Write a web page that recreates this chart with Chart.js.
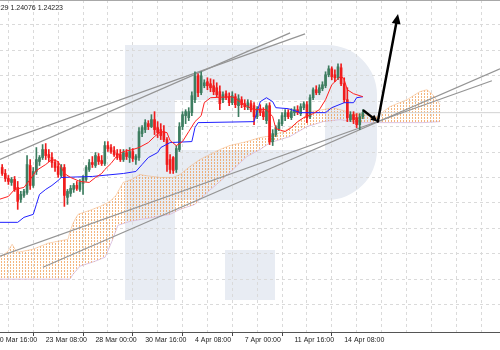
<!DOCTYPE html>
<html>
<head>
<meta charset="utf-8">
<script src="https://cdn.jsdelivr.net/npm/chart.js@4.4.1/dist/chart.umd.min.js"></script>
<style>
html, body { margin: 0; padding: 0; background: #fff; }
</style>
</head>
<body>
<canvas id="chartCandles" width="500" height="350"></canvas>
<script>
// GBPUSD H4, bar 0 = 23 Mar 08:00
var firstBar = -14;

var openP = [1.2334,1.2322,1.2312,1.2304,1.2310,1.2294,1.2270,1.2278,1.2284,1.2338,1.2298,1.2326,1.2346,1.2354,
  1.2370,1.2360,1.2354,1.2344,1.2336,1.2318,1.2334,1.2274,1.2282,1.2290,1.2298,1.2290,1.2302,1.2310,1.2330,1.2344,
  1.2338,1.2356,1.2348,1.2342,1.2378,1.2374,1.2368,1.2362,1.2360,1.2350,1.2364,1.2354,1.2366,1.2350,1.2354,1.2402,
  1.2410,1.2422,1.2416,1.2430,1.2414,1.2410,1.2406,1.2390,1.2350,1.2354,1.2330,1.2370,1.2416,1.2438,1.2434,1.2444,
  1.2470,1.2518,1.2484,1.2498,1.2506,1.2502,1.2498,1.2494,1.2486,1.2470,1.2482,1.2476,1.2464,1.2476,1.2458,1.2470,
  1.2462,1.2454,1.2462,1.2458,1.2436,1.2452,1.2446,1.2428,1.2458,1.2386,1.2400,1.2412,1.2422,1.2436,1.2444,1.2434,
  1.2444,1.2450,1.2442,1.2454,1.2460,1.2436,1.2474,1.2490,1.2484,1.2492,1.2498,1.2520,1.2532,1.2520,1.2514,1.2534,
  1.2502,1.2470,1.2430,1.2440,1.2434,1.2420,1.2436];
var highP = [1.2340,1.2330,1.2318,1.2314,1.2316,1.2306,1.2286,1.2290,1.2358,1.2350,1.2334,1.2374,1.2358,1.2380,
  1.2382,1.2370,1.2364,1.2350,1.2346,1.2340,1.2340,1.2290,1.2298,1.2302,1.2306,1.2310,1.2318,1.2338,1.2350,1.2356,
  1.2364,1.2362,1.2358,1.2386,1.2386,1.2380,1.2376,1.2370,1.2370,1.2370,1.2370,1.2374,1.2372,1.2360,1.2414,1.2418,
  1.2430,1.2428,1.2440,1.2446,1.2426,1.2422,1.2418,1.2394,1.2360,1.2356,1.2378,1.2424,1.2446,1.2450,1.2454,1.2486,
  1.2526,1.2522,1.2526,1.2510,1.2514,1.2512,1.2510,1.2504,1.2498,1.2486,1.2488,1.2484,1.2486,1.2482,1.2480,1.2476,
  1.2470,1.2470,1.2468,1.2464,1.2456,1.2460,1.2454,1.2462,1.2464,1.2410,1.2418,1.2430,1.2444,1.2450,1.2450,1.2452,
  1.2456,1.2458,1.2462,1.2466,1.2466,1.2480,1.2494,1.2498,1.2500,1.2506,1.2526,1.2538,1.2536,1.2530,1.2542,1.2542,
  1.2514,1.2494,1.2446,1.2446,1.2442,1.2442,1.2450];
var lowP = [1.2318,1.2306,1.2300,1.2298,1.2286,1.2250,1.2264,1.2274,1.2280,1.2290,1.2294,1.2320,1.2338,1.2350,
  1.2350,1.2346,1.2334,1.2326,1.2314,1.2314,1.2256,1.2260,1.2276,1.2284,1.2288,1.2286,1.2280,1.2306,1.2326,1.2334,
  1.2334,1.2340,1.2338,1.2338,1.2366,1.2362,1.2356,1.2350,1.2346,1.2346,1.2350,1.2344,1.2346,1.2340,1.2348,1.2396,
  1.2404,1.2410,1.2414,1.2400,1.2394,1.2390,1.2386,1.2326,1.2322,1.2322,1.2324,1.2366,1.2410,1.2422,1.2428,1.2438,
  1.2464,1.2476,1.2480,1.2494,1.2490,1.2486,1.2480,1.2476,1.2450,1.2464,1.2470,1.2458,1.2460,1.2454,1.2436,1.2454,
  1.2450,1.2450,1.2446,1.2420,1.2432,1.2438,1.2430,1.2422,1.2380,1.2378,1.2396,1.2408,1.2418,1.2428,1.2432,1.2430,
  1.2438,1.2440,1.2438,1.2450,1.2424,1.2432,1.2470,1.2480,1.2480,1.2488,1.2494,1.2516,1.2510,1.2506,1.2510,1.2498,
  1.2464,1.2426,1.2426,1.2422,1.2414,1.2410,1.2432];
var closeP = [1.2322,1.2312,1.2306,1.2310,1.2290,1.2266,1.2280,1.2286,1.2340,1.2298,1.2326,1.2350,1.2354,1.2370,
  1.2358,1.2354,1.2344,1.2334,1.2320,1.2334,1.2278,1.2286,1.2292,1.2298,1.2292,1.2304,1.2314,1.2334,1.2344,1.2340,
  1.2358,1.2346,1.2342,1.2378,1.2372,1.2366,1.2360,1.2354,1.2350,1.2364,1.2356,1.2366,1.2352,1.2356,1.2406,1.2414,
  1.2424,1.2416,1.2430,1.2410,1.2404,1.2398,1.2390,1.2340,1.2330,1.2328,1.2372,1.2416,1.2440,1.2446,1.2446,1.2478,
  1.2518,1.2484,1.2518,1.2504,1.2498,1.2494,1.2486,1.2480,1.2462,1.2480,1.2474,1.2464,1.2478,1.2460,1.2472,1.2460,
  1.2456,1.2464,1.2450,1.2436,1.2452,1.2444,1.2436,1.2458,1.2386,1.2402,1.2414,1.2424,1.2438,1.2444,1.2436,1.2446,
  1.2450,1.2444,1.2456,1.2462,1.2434,1.2474,1.2490,1.2484,1.2494,1.2500,1.2520,1.2532,1.2516,1.2514,1.2536,1.2502,
  1.2470,1.2434,1.2440,1.2430,1.2420,1.2436,1.2444];

// Tenkan-sen (red) and Kijun-sen (blue), vertices by bar
var tenkanBar = [-15,-12,-10,-7,-5,-3,0,2,4,6,8,11,14,16,18,19,21,23,25,28,30,33,35,37,39,40,42,44,46,48,50,51,53,60,62,65,67,71,73,74,77,79,81,83,86,88,90,92,95,96,97,99,102];
var tenkanP = [1.2270,1.2276,1.2290,1.2294,1.2310,1.2328,1.2340,1.2350,1.2346,1.2322,1.2314,1.2306,1.2304,1.2314,1.2322,1.2330,1.2342,1.2358,1.2366,1.2370,1.2374,1.2384,1.2396,1.2406,1.2404,1.2388,1.2378,1.2386,1.2406,1.2426,1.2438,1.2464,1.2474,1.2476,1.2468,1.2456,1.2450,1.2450,1.2436,1.2412,1.2406,1.2414,1.2426,1.2434,1.2442,1.2450,1.2470,1.2500,1.2518,1.2510,1.2490,1.2482,1.2476];
var kijunBar = [-15,-9,-7,-4,-3,-2,0,2,4,5,15,25,29,31,33,36,37,40,47,48,49,67,68,69,71,73,74,78,82,90,92,96,99,100,102];
var kijunP = [1.2224,1.2224,1.2234,1.2240,1.2260,1.2280,1.2290,1.2298,1.2308,1.2314,1.2316,1.2322,1.2326,1.2340,1.2354,1.2364,1.2374,1.2384,1.2386,1.2414,1.2424,1.2426,1.2446,1.2466,1.2474,1.2466,1.2454,1.2452,1.2444,1.2444,1.2454,1.2464,1.2464,1.2474,1.2476];

// Kumo edges (shifted 26 bars forward)
var cloudTopBar = [-14.7,-12.1,-10.8,-9.9,-8.9,-4.1,0.7,7.2,7.8,9.1,10.4,14.2,17.5,20.7,22.6,24.9,27.7,30.3,31.9,36.8,40.9,43.2,46.4,49.6,52.8,56.0,59.2,64.7,68.9,73.1,77.6,81.8,85.0,89.2,92.4,96.9,102.0,106.5,110.7,116.2,120.3,122.6,124.5,126.8];
var cloudTopP = [1.2154,1.2166,1.2180,1.2170,1.2164,1.2170,1.2182,1.2190,1.2206,1.2226,1.2240,1.2248,1.2256,1.2266,1.2278,1.2304,1.2310,1.2320,1.2318,1.2314,1.2314,1.2320,1.2336,1.2350,1.2360,1.2370,1.2378,1.2386,1.2394,1.2398,1.2410,1.2428,1.2446,1.2450,1.2454,1.2446,1.2440,1.2436,1.2456,1.2470,1.2486,1.2490,1.2480,1.2460];
var cloudBotBar = [-14.7,7.8,8.8,11.0,15.9,19.1,21.3,23.2,27.1,40.0,43.2,48.0,51.2,56.0,60.9,64.7,68.9,72.2,78.5,84.0,89.2,94.6,101.0,106.5,116.2,121.3,126.8];
var cloudBotP = [1.2110,1.2110,1.2120,1.2136,1.2146,1.2154,1.2186,1.2218,1.2226,1.2240,1.2250,1.2260,1.2280,1.2306,1.2334,1.2356,1.2370,1.2384,1.2396,1.2416,1.2426,1.2430,1.2424,1.2424,1.2424,1.2424,1.2426];

// hand-drawn trend channels: [bar, price] pairs
var channelA1 = [[-14.7, 1.2384], [83.4, 1.2602]];
var channelA2 = [[-14.7, 1.2350], [78.6, 1.2604]];
var channelB1 = [[-14.7, 1.2156], [143.5, 1.2508]];
var channelB2 = [[-0.9, 1.2134], [146.1, 1.2532]];
var bidPrice = 1.2444;
var forecastArrows = [
  { from: [102.3, 1.2448], to: [106.8, 1.2426], head: 7 },
  { from: [106.8, 1.2426], to: [113.3, 1.2642], head: 10 }
];

// axis
var xMin = -14.7, xMax = 146.1;
var gridBars = [-8,0,8,16,24,32,40,48,56,64,72,80,88,96,104,112,120,128,136,144];
var labelBars = [-16,0,16,32,48,64,80,96];
var tickLabels = ['20 Mar 16:00','23 Mar 08:00','28 Mar 00:00','30 Mar 16:00','4 Apr 08:00','7 Apr 00:00','11 Apr 16:00','14 Apr 08:00'];
var gridLevels = [1.2620,1.2569,1.2518,1.2467,1.2416,1.2365,1.2314,1.2263,1.2212,1.2161,1.2110,1.2059];

var bullColor = '#3d7d60';
var bearColor = '#f01c1c';
var labelFont = '7px "Liberation Sans"';

function pairs(bars, prices) {
  return bars.map(function (b, i) { return { x: b, y: prices[i] }; });
}
function segment(line) {
  return line.map(function (p) { return { x: p[0], y: p[1] }; });
}
function candleColor(ctx) {
  var i = ctx.dataIndex;
  return closeP[i] >= openP[i] ? bullColor : bearColor;
}

function makeDots() {
  var c = document.createElement('canvas');
  c.width = 3; c.height = 3;
  var g = c.getContext('2d');
  g.fillStyle = 'rgba(240,150,70,0.7)';
  g.fillRect(1, 0, 1, 2);
  return g.createPattern(c, 'repeat');
}

// big "R" watermark behind the chart
var watermark = {
  id: 'watermark',
  beforeDraw: function (chart) {
    var c = chart.ctx;
    c.save();
    c.fillStyle = '#e8ecf3';
    c.fillRect(125, 45, 50, 255);
    c.beginPath();
    c.moveTo(175, 45);
    c.lineTo(327, 45);
    c.arcTo(377, 45, 377, 95, 50);
    c.lineTo(377, 150);
    c.arcTo(377, 200, 327, 200, 50);
    c.lineTo(175, 200);
    c.lineTo(175, 150);
    c.lineTo(325, 150);
    c.lineTo(325, 100);
    c.lineTo(175, 100);
    c.closePath();
    c.fill();
    c.fillRect(225, 250, 50, 50);
    c.restore();
  }
};

var overlay = {
  id: 'overlay',
  afterDatasetsDraw: function (chart) {
    var c = chart.ctx, xs = chart.scales.x, ys = chart.scales.y;
    c.save();
    c.strokeStyle = '#000';
    c.fillStyle = '#000';
    c.lineWidth = 2.5;
    c.lineCap = 'round';
    forecastArrows.forEach(function (a) {
      var x1 = xs.getPixelForValue(a.from[0]), y1 = ys.getPixelForValue(a.from[1]);
      var x2 = xs.getPixelForValue(a.to[0]), y2 = ys.getPixelForValue(a.to[1]);
      var ang = Math.atan2(y2 - y1, x2 - x1), h = a.head;
      c.beginPath();
      c.moveTo(x1, y1);
      c.lineTo(x2 - Math.cos(ang) * h * 0.7, y2 - Math.sin(ang) * h * 0.7);
      c.stroke();
      c.beginPath();
      c.moveTo(x2, y2);
      c.lineTo(x2 - h * Math.cos(ang) + h * 0.45 * Math.sin(ang), y2 - h * Math.sin(ang) - h * 0.45 * Math.cos(ang));
      c.lineTo(x2 - h * Math.cos(ang) - h * 0.45 * Math.sin(ang), y2 - h * Math.sin(ang) + h * 0.45 * Math.cos(ang));
      c.closePath();
      c.fill();
    });
    c.restore();
  },
  afterDraw: function (chart) {
    var c = chart.ctx, xs = chart.scales.x;
    c.save();
    c.strokeStyle = '#a8a8a8';
    c.lineWidth = 1;
    c.beginPath();
    c.moveTo(0, 0.5);
    c.lineTo(500, 0.5);
    c.stroke();
    c.fillStyle = '#222';
    c.font = labelFont;
    c.textBaseline = 'middle';
    c.textAlign = 'right';
    c.fillText('1.24229 1.24076 1.24223', 63, 8);
    // time label whose bar lies left of the visible window
    c.textAlign = 'left';
    c.textBaseline = 'top';
    labelBars.forEach(function (b, i) {
      if (b < xMin) {
        c.fillText(tickLabels[i], xs.getPixelForValue(b), xs.top + 5);
      }
    });
    c.restore();
  }
};

var lineBase = { type: 'line', pointRadius: 0, borderWidth: 1, tension: 0, fill: false };

var chartCandles = new Chart(document.getElementById('chartCandles'), {
  type: 'bar',
  data: {
    datasets: [
      Object.assign({}, lineBase, { label: 'Tenkan', data: pairs(tenkanBar, tenkanP), borderColor: '#ff2020', order: 1 }),
      Object.assign({}, lineBase, { label: 'Kijun', data: pairs(kijunBar, kijunP), borderColor: '#2020ff', order: 2 }),
      {
        label: 'Body', grouped: false, order: 4, barThickness: 2,
        data: openP.map(function (o, i) { return { x: firstBar + i, y: [o, closeP[i]] }; }),
        backgroundColor: candleColor, borderWidth: 0
      },
      {
        label: 'Wick', grouped: false, order: 5, barThickness: 1,
        data: highP.map(function (h, i) { return { x: firstBar + i, y: [lowP[i], h] }; }),
        backgroundColor: candleColor, borderWidth: 0
      },
      Object.assign({}, lineBase, { label: 'A1', data: segment(channelA1), borderColor: '#959595', borderWidth: 1.2, order: 6 }),
      Object.assign({}, lineBase, { label: 'A2', data: segment(channelA2), borderColor: '#959595', borderWidth: 1.2, order: 6 }),
      Object.assign({}, lineBase, { label: 'B1', data: segment(channelB1), borderColor: '#959595', borderWidth: 1.2, order: 6 }),
      Object.assign({}, lineBase, { label: 'B2', data: segment(channelB2), borderColor: '#959595', borderWidth: 1.2, order: 6 }),
      Object.assign({}, lineBase, { label: 'Bid', data: [{ x: xMin, y: bidPrice }, { x: xMax, y: bidPrice }], borderColor: '#d2d2d2', order: 7 }),
      Object.assign({}, lineBase, { label: 'SpanA', data: pairs(cloudTopBar, cloudTopP), borderColor: 'rgba(242,162,95,0.45)', fill: '+1', backgroundColor: makeDots(), order: 9 }),
      Object.assign({}, lineBase, { label: 'SpanB', data: pairs(cloudBotBar, cloudBotP), borderColor: '#dcc4e2', order: 9 })
    ]
  },
  options: {
    responsive: false,
    animation: false,
    events: [],
    layout: { padding: { left: 0, right: 0, top: 0, bottom: 5 } },
    plugins: { legend: { display: false }, tooltip: { enabled: false } },
    scales: {
      x: {
        type: 'linear', min: xMin, max: xMax, offset: false,
        afterBuildTicks: function (scale) {
          scale.ticks = gridBars.map(function (v) { return { value: v }; });
        },
        ticks: {
          autoSkip: false, maxRotation: 0, align: 'start', padding: 1, color: '#222',
          font: { family: 'Liberation Sans', size: 7, lineHeight: 1 },
          callback: function (v) {
            var i = labelBars.indexOf(v);
            return i >= 0 ? tickLabels[i] : '';
          }
        },
        grid: {
          color: '#dadada', tickLength: 4,
          tickColor: function (ctx) {
            return ctx.tick && labelBars.indexOf(ctx.tick.value) >= 0 ? '#444' : 'rgba(0,0,0,0)';
          }
        },
        border: { display: true, color: '#555', dash: [3, 3] }
      },
      y: {
        type: 'linear', min: 1.2004, max: 1.2670,
        afterBuildTicks: function (scale) {
          scale.ticks = gridLevels.map(function (v) { return { value: v }; });
        },
        ticks: { display: false },
        grid: { color: '#dadada', drawTicks: false },
        border: { display: false, dash: [3, 3] }
      }
    }
  },
  plugins: [watermark, overlay]
});
</script>
</body>
</html>
